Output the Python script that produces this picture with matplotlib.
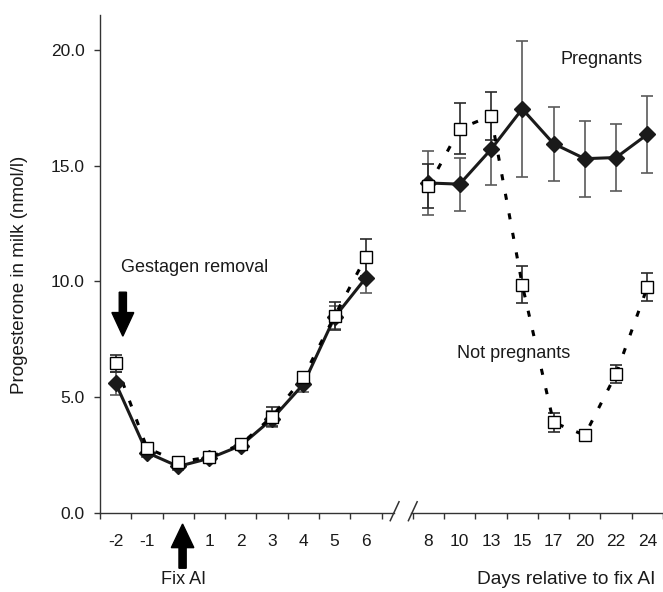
import numpy as np
import matplotlib
matplotlib.use("Agg")
import matplotlib.pyplot as plt

plt.rcParams['font.family'] = ['Liberation Sans', 'DejaVu Sans']

# ---- data ----
tick_labels = ["-2", "-1", "", "1", "2", "3", "4", "5", "6", "",
               "8", "10", "13", "15", "17", "20", "22", "24"]
preg_mean = [5.6, 2.6, 2.0, 2.35, 2.9, 4.05, 5.55, 8.45, 10.15, np.nan,
             14.25, 14.2, 15.7, 17.45, 15.95, 15.3, 15.35, 16.35]
preg_err = [0.5, 0.2, 0.15, 0.15, 0.2, 0.35, 0.35, 0.5, 0.65, np.nan,
            1.4, 1.15, 1.55, 2.95, 1.6, 1.65, 1.45, 1.65]
nonp_mean = [6.45, 2.8, 2.2, 2.4, 2.95, 4.15, 5.85, 8.5, 11.05, np.nan,
             14.1, 16.6, 17.15, 9.85, 3.9, 3.35, 6.0, 9.75]
nonp_err = [0.35, 0.15, 0.1, 0.15, 0.2, 0.4, 0.2, 0.6, 0.8, np.nan,
            0.95, 1.1, 1.05, 0.8, 0.4, 0.15, 0.4, 0.6]
y_ticks = [0, 5, 10, 15, 20]

x = np.arange(len(tick_labels))

W, H = 663, 592
fig = plt.figure(figsize=(W / 100, H / 100), dpi=100)
ax = fig.add_axes([100 / W, (H - 512.7) / H, (W - 100) / W, (512.7 - 15) / H])

axis_col = '#333333'
txt_col = '#1a1a1a'

# error bars
ax.errorbar(x, preg_mean, yerr=preg_err, fmt='none', ecolor='#5a5a5a',
            elinewidth=1.2, capsize=4, capthick=1.2, zorder=2)
ax.errorbar(x, nonp_mean, yerr=nonp_err, fmt='none', ecolor='#2a2a2a',
            elinewidth=1.2, capsize=4, capthick=1.2, zorder=2.5)

# pregnant series
ax.plot(x, preg_mean, color='#1a1a1a', lw=2.2, zorder=3)
ax.plot(x, preg_mean, ls='none', marker='D', ms=8, color='#1a1a1a', zorder=4)
# not pregnant series
ax.plot(x, nonp_mean, color='black', lw=2.2, ls=(0, (2, 4.5)), zorder=3.5)
ax.plot(x, nonp_mean, ls='none', marker='s', ms=8, mfc='white', mec='black',
        mew=1.0, zorder=6)

# axes limits
ax.set_xlim(-0.5, -0.5 + (W - 100) / 31.41)
ax.set_ylim(0, 21.51)

for s in ['top', 'right', 'bottom']:
    ax.spines[s].set_visible(False)
ax.spines['left'].set_color(axis_col)
ax.spines['left'].set_linewidth(1.0)

ax.set_yticks(y_ticks)
ax.set_yticklabels([f"{v:.1f}" for v in y_ticks])
ax.tick_params(axis='y', direction='out', length=4, width=1, color=axis_col,
               labelsize=12.5, labelcolor=txt_col, pad=7)

ax.set_xticks(x)
ax.set_xticklabels(tick_labels)
ax.set_xticks(np.arange(-0.5, len(tick_labels) + 0.5, 1), minor=True)
ax.tick_params(axis='x', which='major', length=0, labelsize=12.5,
               labelcolor=txt_col, pad=15)
ax.tick_params(axis='x', which='minor', direction='out', length=4.3, width=1,
               color=axis_col)

# broken x axis line
xt = ax.get_xaxis_transform()
ax.plot([-0.5, 8.9], [0, 0], transform=xt, color=axis_col, lw=1.0,
        clip_on=False, zorder=1)
ax.plot([9.45, 18], [0, 0], transform=xt, color=axis_col, lw=1.0,
        clip_on=False, zorder=1)
for cx in (8.92, 9.5):
    ax.plot([cx - 0.14, cx + 0.14], [-0.016, 0.022], transform=xt,
            color=axis_col, lw=1.1, clip_on=False, zorder=1)

# arrows
ax.arrow(0.23, 9.53, 0, -1.9, width=0.23, head_width=0.70, head_length=1.02,
         length_includes_head=True, color='black', zorder=7)
ax.arrow(2.14, -2.40, 0, 1.91, width=0.23, head_width=0.72, head_length=1.02,
         length_includes_head=True, color='black', zorder=7, clip_on=False)

# texts
fig.text(20 / W, 1 - 275 / H, "Progesterone in milk (nmol/l)", rotation=90,
         ha='center', va='center', fontsize=13.5, color=txt_col)
fig.text(121 / W, 1 - 267.5 / H, "Gestagen removal", ha='left', va='center',
         fontsize=13, color=txt_col)
fig.text(560 / W, 1 - 60 / H, "Pregnants", ha='left', va='center',
         fontsize=13, color=txt_col)
fig.text(457 / W, 1 - 353 / H, "Not pregnants", ha='left', va='center',
         fontsize=13, color=txt_col, zorder=10,
         bbox=dict(facecolor='white', edgecolor='none', pad=1))
fig.text(184 / W, 1 - 580 / H, "Fix AI", ha='center', va='center',
         fontsize=13, color=txt_col)
fig.text(655 / W, 1 - 580 / H, "Days relative to fix AI", ha='right',
         va='center', fontsize=13.8, color=txt_col)

fig.savefig("out.png", dpi=100)
